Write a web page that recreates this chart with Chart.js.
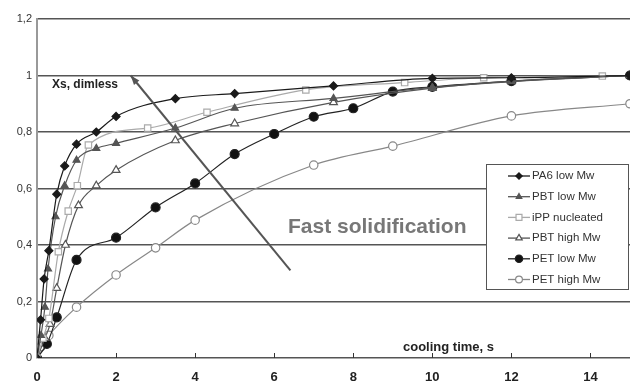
<!DOCTYPE html>
<html lang="en">
<head>
<meta charset="UTF-8">
<title>Xs vs cooling time</title>
<script src="https://cdn.jsdelivr.net/npm/chart.js@4.4.0/dist/chart.umd.min.js"></script>
<style>
  body { margin: 0; background: #fff; }
  #wrap { width: 630px; height: 384px; }
</style>
</head>
<body>
<div id="wrap"><canvas id="myChart"></canvas></div>
<script>
// values (cooling time in s, Xs dimensionless)
const pa6Time = [0, 0.09, 0.18, 0.3, 0.5, 0.7, 1.0, 1.5, 2.0, 3.5, 5.0, 7.5, 10.0, 12.0, 15.0];
const pa6Xs   = [0, 0.135, 0.28, 0.38, 0.58, 0.68, 0.757, 0.80, 0.855, 0.918, 0.936, 0.963, 0.99, 0.992, 1.0];

const pbtLowTime = [0, 0.1, 0.2, 0.28, 0.47, 0.7, 1.0, 1.5, 2.0, 3.5, 5.0, 7.5, 10.0, 12.0, 15.0];
const pbtLowXs   = [0, 0.08, 0.18, 0.315, 0.5, 0.61, 0.70, 0.742, 0.76, 0.814, 0.884, 0.919, 0.958, 0.978, 1.0];

const ippTime = [0, 0.15, 0.3, 0.54, 0.79, 1.02, 1.3, 2.8, 4.3, 6.8, 9.3, 11.3, 14.3];
const ippXs   = [0, 0.07, 0.14, 0.376, 0.52, 0.61, 0.754, 0.814, 0.87, 0.949, 0.975, 0.992, 0.998];

const pbtHighTime = [0, 0.2, 0.33, 0.5, 0.72, 1.05, 1.5, 2.0, 3.5, 5.0, 7.5, 10.0, 12.0, 15.0];
const pbtHighXs   = [0, 0.07, 0.12, 0.247, 0.40, 0.54, 0.61, 0.665, 0.77, 0.83, 0.905, 0.955, 0.98, 1.0];

const petLowTime = [0, 0.25, 0.5, 1.0, 2.0, 3.0, 4.0, 5.0, 6.0, 7.0, 8.0, 9.0, 10.0, 12.0, 15.0];
const petLowXs   = [0, 0.05, 0.144, 0.347, 0.426, 0.533, 0.618, 0.722, 0.793, 0.854, 0.884, 0.943, 0.96, 0.98, 1.0];

const petHighTime = [0, 0.1, 0.3, 1.0, 2.0, 3.0, 4.0, 7.0, 9.0, 12.0, 15.0];
const petHighXs   = [0, 0.04, 0.08, 0.18, 0.294, 0.39, 0.488, 0.683, 0.75, 0.857, 0.9];

const seriesNames = ['PA6 low Mw', 'PBT low Mw', 'iPP nucleated', 'PBT high Mw', 'PET low Mw', 'PET high Mw'];
const yTicks = [0, 0.2, 0.4, 0.6, 0.8, 1.0, 1.2];
const xTicks = [0, 2, 4, 6, 8, 10, 12, 14];

// arrow drawn across the curves, in data units
const arrowFrom = [6.41, 0.31];
const arrowTo = [2.37, 1.0];

function pts(xs, ys) {
    return xs.map((x, i) => ({ x: x, y: ys[i] }));
}

const styles = [
    { data: pts(pa6Time, pa6Xs), line: '#1a1a1a', fill: '#1a1a1a', shape: 'rectRot', r: 4 },
    { data: pts(pbtLowTime, pbtLowXs), line: '#555', fill: '#555', shape: 'triangle', r: 4 },
    { data: pts(ippTime, ippXs), line: '#aaa', fill: '#fff', shape: 'rect', r: 4.5 },
    { data: pts(pbtHighTime, pbtHighXs), line: '#555', fill: '#fff', shape: 'triangle', r: 4.5 },
    { data: pts(petLowTime, petLowXs), line: '#222', fill: '#111', shape: 'circle', r: 4.5 },
    { data: pts(petHighTime, petHighXs), line: '#888', fill: '#fff', shape: 'circle', r: 4.2 }
];

const datasets = styles.map((s, i) => ({
    label: seriesNames[i],
    data: s.data,
    borderColor: s.line,
    borderWidth: 1.2,
    pointStyle: s.shape,
    pointRadius: s.r,
    pointBackgroundColor: s.fill,
    pointBorderColor: s.line,
    pointBorderWidth: 1.2,
    cubicInterpolationMode: 'monotone',
    fill: false
}));

function drawMarker(ctx, shape, x, y, r, fill, stroke) {
    ctx.save();
    ctx.beginPath();
    if (shape === 'circle') {
        ctx.arc(x, y, r, 0, Math.PI * 2);
    } else if (shape === 'rect') {
        ctx.rect(x - r * 0.8, y - r * 0.8, r * 1.6, r * 1.6);
    } else if (shape === 'rectRot') {
        ctx.moveTo(x, y - r); ctx.lineTo(x + r, y); ctx.lineTo(x, y + r); ctx.lineTo(x - r, y);
        ctx.closePath();
    } else if (shape === 'triangle') {
        ctx.moveTo(x, y - r); ctx.lineTo(x + r * 0.87, y + r * 0.5); ctx.lineTo(x - r * 0.87, y + r * 0.5);
        ctx.closePath();
    }
    ctx.fillStyle = fill;
    ctx.fill();
    ctx.lineWidth = 1.2;
    ctx.strokeStyle = stroke;
    ctx.stroke();
    ctx.restore();
}

const extras = {
    id: 'extras',
    afterDatasetsDraw(chart) {
        const ctx = chart.ctx;
        const xs = chart.scales.x, ys = chart.scales.y;
        const area = chart.chartArea;

        // small inward tick marks on the time axis
        ctx.save();
        ctx.strokeStyle = '#333';
        ctx.lineWidth = 1;
        xTicks.forEach(t => {
            const px = Math.round(xs.getPixelForValue(t)) + 0.5;
            ctx.beginPath();
            ctx.moveTo(px, area.bottom);
            ctx.lineTo(px, area.bottom - 5);
            ctx.stroke();
        });

        // arrow
        const x1 = xs.getPixelForValue(arrowFrom[0]), y1 = ys.getPixelForValue(arrowFrom[1]);
        const x2 = xs.getPixelForValue(arrowTo[0]), y2 = ys.getPixelForValue(arrowTo[1]);
        ctx.strokeStyle = '#555';
        ctx.fillStyle = '#555';
        ctx.lineWidth = 2;
        ctx.beginPath();
        ctx.moveTo(x1, y1);
        ctx.lineTo(x2, y2);
        ctx.stroke();
        const ang = Math.atan2(y2 - y1, x2 - x1);
        ctx.beginPath();
        ctx.moveTo(x2, y2);
        ctx.lineTo(x2 - 10 * Math.cos(ang - 0.35), y2 - 10 * Math.sin(ang - 0.35));
        ctx.lineTo(x2 - 10 * Math.cos(ang + 0.35), y2 - 10 * Math.sin(ang + 0.35));
        ctx.closePath();
        ctx.fill();

        // texts
        ctx.fillStyle = '#222';
        ctx.font = 'bold 12px "Liberation Sans", Arial, sans-serif';
        ctx.textBaseline = 'middle';
        ctx.textAlign = 'left';
        ctx.fillText('Xs, dimless', area.left + 15, 85);
        ctx.font = 'bold 13px "Liberation Sans", Arial, sans-serif';
        ctx.fillText('cooling time, s', 403, 347);
        ctx.fillStyle = '#777';
        ctx.font = 'bold 21px "Liberation Sans", Arial, sans-serif';
        ctx.textBaseline = 'alphabetic';
        ctx.fillText('Fast solidification', 288, 233);

        // legend box
        const lx = 486, ly = 164, lw = 142, lh = 125;
        ctx.fillStyle = '#fff';
        ctx.fillRect(lx, ly, lw, lh);
        ctx.strokeStyle = '#555';
        ctx.lineWidth = 1;
        ctx.strokeRect(lx + 0.5, ly + 0.5, lw, lh);
        ctx.font = '11.5px "Liberation Sans", Arial, sans-serif';
        ctx.textBaseline = 'middle';
        styles.forEach((s, i) => {
            const ry = 176 + i * 20.7;
            ctx.strokeStyle = s.line;
            ctx.lineWidth = 1.3;
            ctx.beginPath();
            ctx.moveTo(508, ry);
            ctx.lineTo(530, ry);
            ctx.stroke();
            drawMarker(ctx, s.shape, 519, ry, s.r - 0.8, s.fill, s.line);
            ctx.fillStyle = '#333';
            ctx.fillText(seriesNames[i], 532, ry);
        });
        ctx.restore();
    }
};

const ctx = document.getElementById('myChart').getContext('2d');
const myChart = new Chart(ctx, {
    type: 'line',
    data: { datasets: datasets },
    options: {
        responsive: true,
        maintainAspectRatio: false,
        animation: false,
        devicePixelRatio: 1,
        layout: { autoPadding: false, padding: { top: 19, right: 0, left: 0, bottom: 0 } },
        plugins: {
            legend: { display: false },
            tooltip: { enabled: false }
        },
        scales: {
            x: {
                type: 'linear',
                min: 0,
                max: 15,
                afterBuildTicks: s => { s.ticks = xTicks.map(v => ({ value: v })); },
                afterFit: s => { s.height = 26; s.paddingRight = 0; s.paddingLeft = 0; },
                grid: { display: false, drawTicks: false },
                border: { display: false },
                ticks: {
                    padding: 12,
                    maxRotation: 0,
                    color: '#222',
                    font: { family: '"Liberation Sans", Arial, sans-serif', size: 13, weight: 'bold' }
                }
            },
            y: {
                min: 0,
                max: 1.2,
                afterBuildTicks: s => { s.ticks = yTicks.map(v => ({ value: v })); },
                afterFit: s => { s.width = 37; },
                grid: { color: '#555', lineWidth: 1.5, drawTicks: false },
                border: { color: '#999', width: 2 },
                ticks: {
                    padding: 5,
                    color: '#333',
                    font: { family: '"Liberation Sans", Arial, sans-serif', size: 11 },
                    callback: v => String(+v.toFixed(1)).replace('.', ',')
                }
            }
        }
    },
    plugins: [extras]
});
</script>
</body>
</html>
